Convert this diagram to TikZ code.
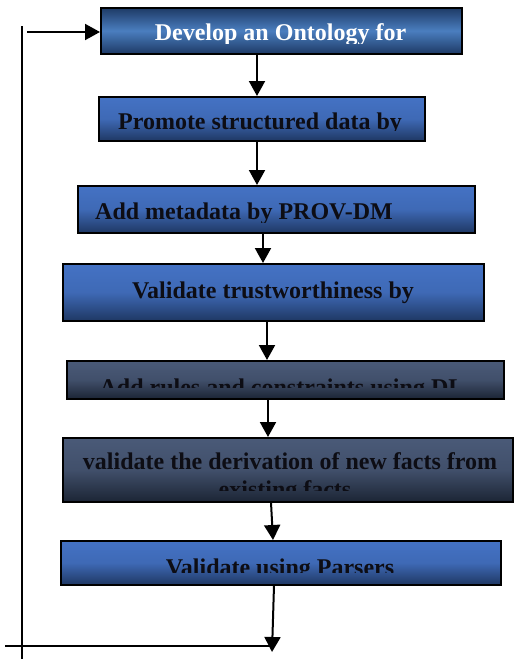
\documentclass[tikz,border=0pt]{standalone}
\usepackage{fontspec}
\setmainfont{Liberation Serif}
\usetikzlibrary{arrows.meta,calc}
\definecolor{blueTop}{HTML}{4472C4}
\definecolor{blueBot}{HTML}{1F3864}
\definecolor{blueMid}{HTML}{4A7EBF}
\definecolor{blueDark}{HTML}{1E3A66}
\definecolor{slateTop}{HTML}{4A5A78}
\definecolor{slateBot}{HTML}{1C2535}
\definecolor{inkc}{HTML}{0D0D14}
\tikzset{
  box/.style={draw=black, line width=1.5pt, anchor=north west, inner sep=0pt},
  bluebox/.style={box, top color=blueTop, bottom color=blueBot, middle color=blueTop!85!blueBot},
  topbox/.style={box, top color=blueDark, bottom color=blueDark, middle color=blueMid},
  slatebox/.style={box, top color=slateTop, bottom color=slateBot, middle color=slateTop!80!slateBot},
  txt/.style={anchor=base, inner sep=0pt, font=\bfseries\fontsize{24}{28}\selectfont, text=inkc},
  arr/.style={line width=2pt, -{Triangle[length=15pt,width=16pt]}},
  ln/.style={line width=2pt}
}
\begin{document}
\begin{tikzpicture}[x=1pt,y=-1pt]
\useasboundingbox (0,0) rectangle (514,659);
% boxes
\node[topbox, minimum width=361pt, minimum height=46pt] (b1) at (100,7) {};
\node[bluebox, minimum width=326pt, minimum height=44pt] (b2) at (98,96) {};
\node[bluebox, minimum width=397pt, minimum height=47pt] (b3) at (77,185) {};
\node[bluebox, minimum width=421pt, minimum height=57pt] (b4) at (62,263) {};
\node[slatebox, minimum width=437pt, minimum height=38pt] (b5) at (66,360) {};
\node[slatebox, minimum width=450pt, minimum height=64pt] (b6) at (62,437) {};
\node[bluebox, minimum width=440pt, minimum height=44pt] (b7) at (60,540) {};
% texts (clipped like the original)
\begin{scope}\clip (b1.north west) rectangle (b1.east |- 0,43);
\node[txt, text=white] (t1) at (280.5,40.7) {Develop an Ontology for};
\end{scope}
\begin{scope}\clip (b2.north west) rectangle (b2.east |- 0,130);
\node[txt] (t2) at (260,129.3) {Promote structured data by};
\end{scope}
\begin{scope}\clip (b3.north west) rectangle (b3.east |- 0,222.5);
\node[txt] (t3) at (244,219.3) {Add metadata by PROV-DM};
\end{scope}
\begin{scope}\clip (b4.north west) rectangle (b4.east |- 0,303);
\node[txt] (t4) at (273,298.3) {Validate trustworthiness by};
\end{scope}
\begin{scope}\clip (b5.north west) rectangle (b5.east |- 0,387);
\node[txt] (t5) at (282,395) {Add rules and constraints using DL};
\end{scope}
\begin{scope}\clip (b6.north west) rectangle (b6.east |- 0,490.7);
\node[txt] (t6) at (290,469.3) {validate the derivation of new facts from};
\node[txt] (t6b) at (285,497.5) {existing facts};
\end{scope}
\begin{scope}\clip (b7.north west) rectangle (b7.east |- 0,572.5);
\node[txt] (t7) at (280,575) {Validate using Parsers};
\end{scope}
% connectors
\draw[arr] (b1.south -| 257,0) -- (b2.north -| 257,0);
\draw[arr] (b2.south -| 257,0) -- (b3.north -| 257,0);
\draw[arr] (b3.south -| 263,0) -- (b4.north -| 263,0);
\draw[arr] (b4.south -| 267,0) -- (b5.north -| 267,0);
\draw[arr] (b5.south -| 268,0) -- (b6.north -| 268,0);
\draw[arr] (b6.south -| 271,0) -- (b7.north -| 273,0);
\coordinate (endp) at (272,652);
\draw[arr] (b7.south -| 274,0) -- (endp);
% feedback loop
\coordinate (lb) at (5,646);
\coordinate (lc) at (270,646);
\coordinate (vt) at (22,26);
\coordinate (vb) at (22,659);
\coordinate (ts) at (27,32);
\draw[ln] (lb) -- (lc);
\draw[ln] (vt) -- (vb);
\draw[arr] (ts) -- (b1.west |- ts);
\end{tikzpicture}
\end{document}
